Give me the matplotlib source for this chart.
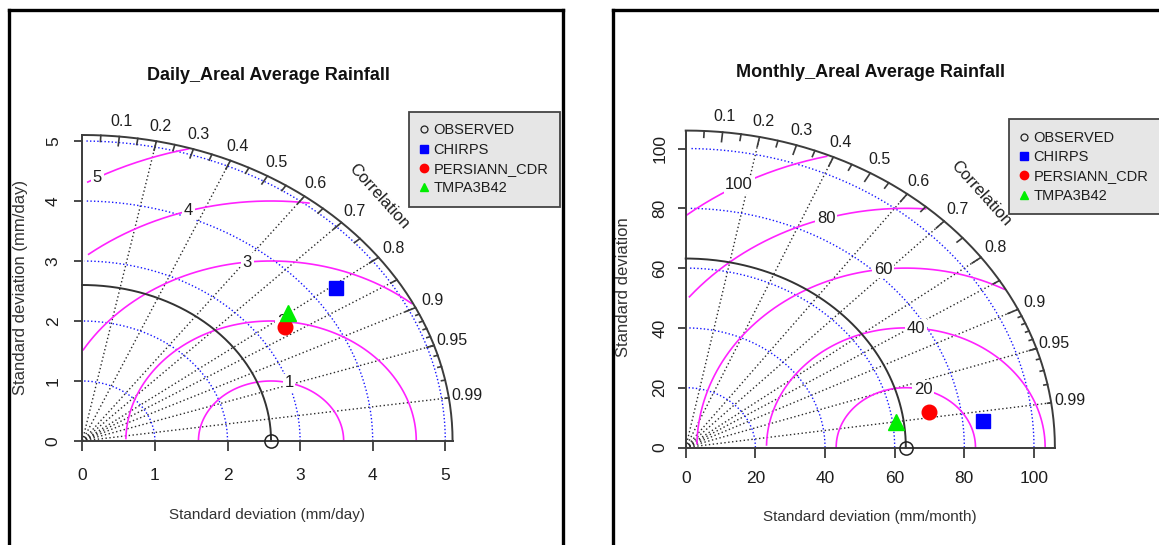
import numpy as np
import matplotlib
matplotlib.use("Agg")
import matplotlib.pyplot as plt
from matplotlib.transforms import offset_copy
from matplotlib.lines import Line2D

plt.rcParams['font.family'] = ['Liberation Sans', 'DejaVu Sans']

# ---------------- data ----------------
products = ['CHIRPS', 'PERSIANN_CDR', 'TMPA3B42']
legend_labels = ['OBSERVED', 'CHIRPS', 'PERSIANN_CDR', 'TMPA3B42']

daily_title = 'Daily_Areal Average Rainfall'
daily_xlabel = 'Standard deviation (mm/day)'
daily_ylabel = 'Standard deviation (mm/day)'
daily_ref_sd = 2.6
daily_sd = [4.33, 3.38, 3.54]
daily_corr = [0.808, 0.826, 0.799]
daily_maxsd = 5.1
daily_ticks = [0, 1, 2, 3, 4, 5]
daily_gamma = [1, 2, 3, 4, 5]

monthly_title = 'Monthly_Areal Average Rainfall'
monthly_xlabel = 'Standard deviation (mm/month)'
monthly_ylabel = 'Standard deviation'
monthly_ref_sd = 63.2
monthly_sd = [85.9, 70.8, 61.0]
monthly_corr = [0.9946, 0.9858, 0.9902]
monthly_maxsd = 106
monthly_ticks = [0, 20, 40, 60, 80, 100]
monthly_gamma = [20, 40, 60, 80, 100]

corr_lines = [0.2, 0.4, 0.6, 0.7, 0.8, 0.85, 0.9, 0.95, 0.99]
corr_labels = [0.1, 0.2, 0.3, 0.4, 0.5, 0.6, 0.7, 0.8, 0.9, 0.95, 0.99]
big_ticks = [0.1, 0.2, 0.3, 0.4, 0.5, 0.6, 0.7, 0.8, 0.9]
med_ticks = [0.05, 0.15, 0.25, 0.35, 0.45, 0.55, 0.65, 0.75, 0.85, 0.95]
small_ticks = [0.91, 0.92, 0.93, 0.94, 0.95, 0.96, 0.97, 0.98, 0.99]

# ---------------- styles ----------------
W, H = 1159, 545
fig = plt.figure(figsize=(W / 100, H / 100), dpi=100)
fig.patch.set_facecolor('white')

AXC = '#3c3c3c'
TXT = '#1e1e1e'
point_styles = [
    dict(marker='s', color='#0000FF', ms=10.5),
    dict(marker='o', color='#FF0000', ms=10.5),
    dict(marker='^', color='#00EE00', ms=12),
]


def fx(x):
    return x / W


def fy(y):
    return 1 - y / H


def panel(ox, oy, sx, sy, maxsd, ref_sd, sds, cors, ticks, gammas,
          title, title_xy, xlabel, xlabel_xy, ylabel, ylabel_xy,
          xtick_off, ytick_off, legend_xy):
    L = maxsd * 1.2
    ax = fig.add_axes([fx(ox), fy(oy), sx * L / W, sy * L / H])
    ax.set_xlim(0, L)
    ax.set_ylim(0, L)
    ax.axis('off')

    # correlation grid lines
    for c in corr_lines:
        ax.plot([0, maxsd * c], [0, maxsd * np.sqrt(1 - c * c)],
                ls=(0, (1, 1.8)), color='#2a2a2a', lw=1.0, zorder=1,
                clip_on=False)

    # sd arcs
    th = np.arange(0, np.pi / 2, 0.03)
    for s in ticks[1:]:
        ax.plot(np.cos(th) * s, np.sin(th) * s, ls=(0, (1, 1.6)),
                color='#1515FF', lw=1.0, zorder=2, clip_on=False)

    # gamma (centred RMS) contours
    thg = np.arange(0, np.pi + 1e-9, 0.03)
    labelpos = np.floor(np.linspace(45, 70, len(gammas))).astype(int) - 1
    for gi, g in enumerate(gammas):
        xc = np.cos(thg) * g + ref_sd
        yc = np.sin(thg) * g
        keep = (xc >= 0) & (xc ** 2 + yc ** 2 <= maxsd ** 2)
        ax.plot(xc[keep], yc[keep], color='#FF22FF', lw=1.2, zorder=3,
                clip_on=False)
        k = labelpos[gi]
        if xc[k] > 0:
            ax.text(xc[k], yc[k], str(g), ha='center', va='center',
                    fontsize=12, color=TXT, zorder=4,
                    bbox=dict(boxstyle='square,pad=0.1', fc='white',
                              ec='none'))

    # axis lines and ticks
    ax.plot([0, maxsd], [0, 0], color=AXC, lw=1.4, zorder=5, clip_on=False)
    ax.plot([0, 0], [0, maxsd], color=AXC, lw=1.4, zorder=5, clip_on=False)
    ax.plot(ticks, [0] * len(ticks), ls='none', marker=3, ms=7.2, mew=1.3,
            color=AXC, clip_on=False, zorder=5)
    ax.plot([0] * len(ticks), ticks, ls='none', marker=0, ms=5.8, mew=1.3,
            color=AXC, clip_on=False, zorder=5)
    tx = offset_copy(ax.transData, fig=fig, x=0, y=-xtick_off, units='dots')
    ty = offset_copy(ax.transData, fig=fig, x=-ytick_off, y=0, units='dots')
    for t in ticks:
        ax.text(t, 0, str(t), transform=tx, ha='center', va='center',
                fontsize=12.5, color=TXT)
        ax.text(0, t, str(t), transform=ty, ha='center', va='center',
                rotation=90, fontsize=12.5, color=TXT)

    # outer arc and correlation ticks
    tho = np.linspace(0, np.pi / 2, 160)
    ax.plot(np.cos(tho) * maxsd, np.sin(tho) * maxsd, color=AXC, lw=1.4,
            zorder=5, clip_on=False)
    for lst, fr in ((big_ticks, 0.97), (med_ticks, 0.98), (small_ticks, 0.99)):
        for c in lst:
            a = np.arccos(c)
            ax.plot([np.cos(a) * maxsd, np.cos(a) * fr * maxsd],
                    [np.sin(a) * maxsd, np.sin(a) * fr * maxsd],
                    color=AXC, lw=1.2, zorder=5, clip_on=False)
    for c in corr_labels:
        a = np.arccos(c)
        ax.text(np.cos(a) * 1.05 * maxsd, np.sin(a) * 1.05 * maxsd, str(c),
                ha='center', va='center', fontsize=11.5, color=TXT)
    ax.text(0.8 * maxsd, 0.8 * maxsd, 'Correlation', rotation=-48,
            ha='center', va='center', fontsize=12, color=TXT,
            rotation_mode='anchor')

    # reference sd arc and observed point
    ax.plot(np.cos(tho) * ref_sd, np.sin(tho) * ref_sd, color='#333333',
            lw=1.4, zorder=6, clip_on=False)
    ax.plot([ref_sd], [0], marker='o', mfc='none', mec='#222222', ms=9.5,
            mew=1.1, ls='none', zorder=7, clip_on=False)

    # model points
    for sd, c, st in zip(sds, cors, point_styles):
        a = np.arccos(c)
        ax.plot([sd * np.cos(a)], [sd * np.sin(a)], ls='none',
                marker=st['marker'], color=st['color'], ms=st['ms'],
                mec=st['color'], zorder=8, clip_on=False)

    # legend
    handles = [Line2D([], [], ls='none', marker='o', mfc='none', mec='#222',
                      ms=5, mew=0.9)]
    for st in point_styles:
        handles.append(Line2D([], [], ls='none', marker=st['marker'],
                              color=st['color'], ms=6))
    leg = ax.legend(handles, legend_labels, loc='upper left',
                    bbox_to_anchor=(fx(legend_xy[0]), fy(legend_xy[1])),
                    bbox_transform=fig.transFigure, fontsize=10.5,
                    frameon=True, fancybox=False, facecolor='#E6E6E6',
                    edgecolor='#444444', framealpha=1, handlelength=0.4,
                    handletextpad=0.45, labelspacing=0.36, borderpad=0.8,
                    borderaxespad=0)
    leg.get_frame().set_linewidth(1.3)
    for t in leg.get_texts():
        t.set_color(TXT)

    fig.text(fx(title_xy[0]), fy(title_xy[1]), title, ha='center',
             va='center', fontsize=13, fontweight='bold', color='#111111')
    fig.text(fx(xlabel_xy[0]), fy(xlabel_xy[1]), xlabel, ha='center',
             va='center', fontsize=11, color='#333333')
    fig.text(fx(ylabel_xy[0]), fy(ylabel_xy[1]), ylabel, ha='center',
             va='center', fontsize=12, rotation=90, color='#333333')


panel(82.3, 441.0, 72.6, 60.0, daily_maxsd, daily_ref_sd, daily_sd,
      daily_corr, daily_ticks, daily_gamma,
      daily_title, (268, 75), daily_xlabel, (267, 515),
      daily_ylabel, (21, 287), 34, 29, (409.2, 111.7))

panel(685.7, 447.5, 3.483, 2.99, monthly_maxsd, monthly_ref_sd, monthly_sd,
      monthly_corr, monthly_ticks, monthly_gamma,
      monthly_title, (870, 72.5), monthly_xlabel, (870, 517),
      monthly_ylabel, (623.5, 287), 31, 26, (1009.5, 119.2))

# panel borders
lw_b = 2.4
for xs, ys in [
    ([9.3, 9.3], [H + 5, 9.7]), ([9.3, 562.7], [9.7, 9.7]),
    ([562.7, 562.7], [9.7, H + 5]),
    ([612.5, 612.5], [H + 5, 10.4]), ([612.5, W + 5], [10.4, 10.4]),
]:
    fig.add_artist(Line2D([fx(v) for v in xs], [fy(v) for v in ys],
                          transform=fig.transFigure, color='black',
                          lw=lw_b, solid_capstyle='projecting'))

fig.savefig('out.png', dpi=100)
